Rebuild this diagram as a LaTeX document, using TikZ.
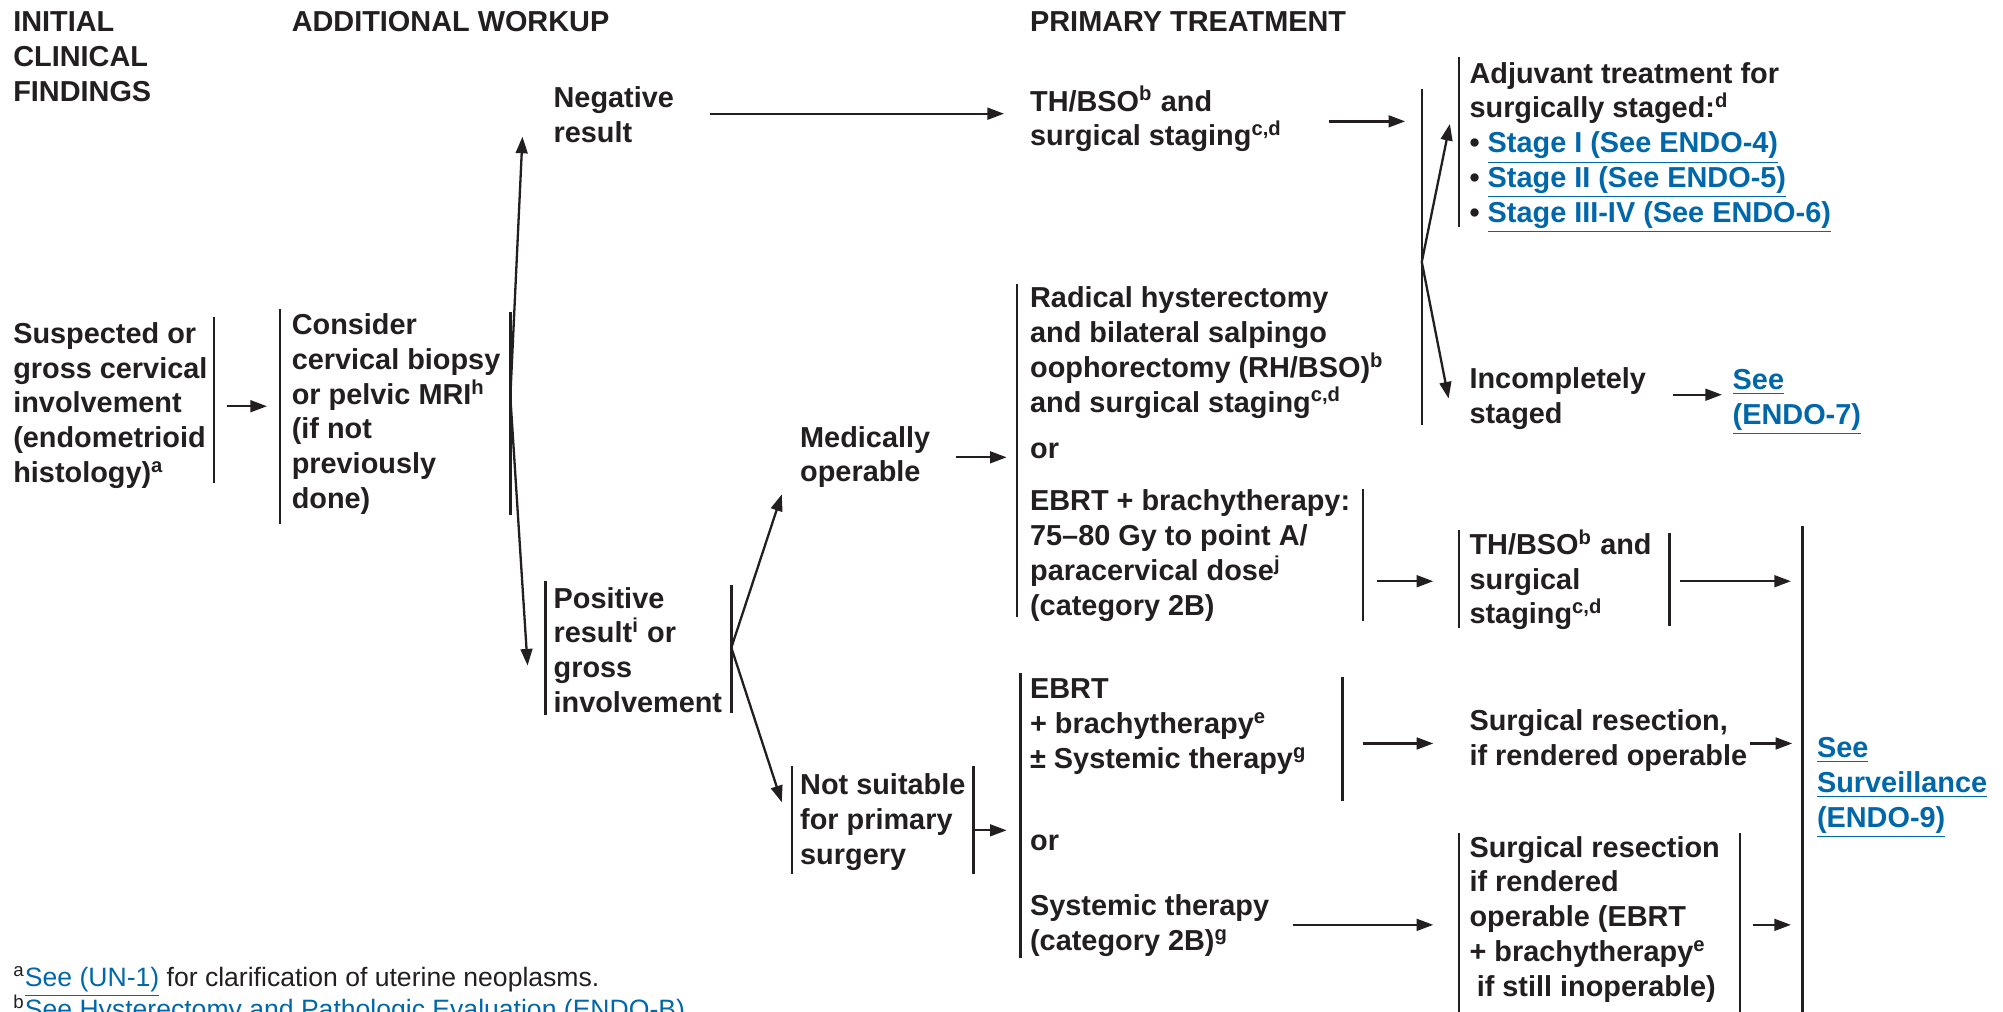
\documentclass[tikz,border=0pt]{standalone}
\usepackage{fontspec}
\setmainfont{Liberation Sans}
\usetikzlibrary{arrows.meta}
\definecolor{ink}{HTML}{231F20}
\definecolor{linkblue}{HTML}{0068AA}
\newcommand{\lnk}[1]{{\color{linkblue}\underline{#1}}}
\begin{document}
\begin{tikzpicture}[x=0.5pt,y=-0.5pt,
  txt/.style={font=\bfseries\fontsize{11.3}{13.6}\selectfont, align=left, anchor=base west, inner sep=0pt, text=ink},
  fn/.style={font=\fontsize{10.4}{12.5}\selectfont, align=left, anchor=base west, inner sep=0pt, text=ink},
  bar/.style={draw=ink, line width=0.95pt},
  arr/.style={draw=ink, line width=0.9pt, -{Triangle[length=6.5pt,width=4.6pt]}}]
\useasboundingbox[fill=white] (0,0) rectangle (1568,792);

% headers (anchor = baseline of the last line)
\node[txt] (h1) at (10,79.4) {INITIAL\\CLINICAL\\FINDINGS};
\node[txt] (h2) at (228,25) {ADDITIONAL WORKUP};
\node[txt] (h3) at (806,25) {PRIMARY TREATMENT};

% text nodes
\node[txt] (susp) at (10,377.6) {Suspected or\\gross cervical\\involvement\\(endometrioid\\histology)\textsuperscript{a}};
\node[txt] (cons) at (228,398) {Consider\\cervical biopsy\\or pelvic MRI\textsuperscript{h}\\(if not\\previously\\done)};
\node[txt] (neg) at (433,111.2) {Negative\\result};
\node[txt] (pos) at (433,557.6) {Positive\\result\textsuperscript{i} or\\gross\\involvement};
\node[txt] (thbso) at (806,114.2) {TH/BSO\textsuperscript{b} and\\surgical staging\textsuperscript{c,d}};
\node[txt] (adj) at (1150,173.8) {Adjuvant treatment for\\surgically staged:\textsuperscript{d}\\• \lnk{Stage I (See ENDO-4)}\\• \lnk{Stage II (See ENDO-5)}\\• \lnk{Stage III-IV (See ENDO-6)}};
\node[txt] (inc) at (1150,331.2) {Incompletely\\staged};
\node[txt] (endo7) at (1356,332.2) {\lnk{See}\\\lnk{(ENDO-7)}};
\node[txt] (med) at (626,377.2) {Medically\\operable};
\node[txt] (rad) at (806,322.6) {Radical hysterectomy\\and bilateral salpingo\\oophorectomy (RH/BSO)\textsuperscript{b}\\and surgical staging\textsuperscript{c,d}};
\node[txt] (or1) at (806,359) {or};
\node[txt] (ebrt1) at (806,481.6) {EBRT + brachytherapy:\\75–80 Gy to point A/\\paracervical dose\textsuperscript{j}\\(category 2B)};
\node[txt] (thbso2) at (1150,488.4) {TH/BSO\textsuperscript{b} and\\surgical\\staging\textsuperscript{c,d}};
\node[txt] (notsuit) at (626,676.4) {Not suitable\\for primary\\surgery};
\node[txt] (ebrt2) at (806,601.4) {EBRT\\+ brachytherapy\textsuperscript{e}\\± Systemic therapy\textsuperscript{g}};
\node[txt] (or2) at (806,666) {or};
\node[txt] (sys) at (806,744.2) {Systemic therapy\\(category 2B)\textsuperscript{g}};
\node[txt] (sr1) at (1150,599.2) {Surgical resection,\\if rendered operable};
\node[txt] (sr2) at (1150,779.8) {Surgical resection\\if rendered\\operable (EBRT\\+ brachytherapy\textsuperscript{e}\\\hspace{0.25em}if still inoperable)};
\node[txt] (surv) at (1422,647.4) {\lnk{See}\\\lnk{Surveillance}\\\lnk{(ENDO-9)}};

% footnotes
\node[fn] (fna) at (10,772) {\textsuperscript{a}\lnk{See (UN-1)} for clarification of uterine neoplasms.};
\node[fn] (fnb) at (10,797) {\textsuperscript{b}\lnk{See Hysterectomy and Pathologic Evaluation (ENDO-B)}};

% bars
\coordinate (b1t) at (167.5,248); \coordinate (b1b) at (167.5,378);
\coordinate (b2t) at (219,242);   \coordinate (b2b) at (219,410);
\coordinate (b3t) at (399.5,244); \coordinate (b3b) at (399.5,403);
\coordinate (b4t) at (427,455);   \coordinate (b4b) at (427,560);
\coordinate (b5t) at (572.5,458); \coordinate (b5b) at (572.5,558);
\coordinate (b6t) at (796,222);   \coordinate (b6b) at (796,483);
\coordinate (b7t) at (1067,383);  \coordinate (b7b) at (1067,486);
\coordinate (b8t) at (1113,70);   \coordinate (b8b) at (1113,333);
\coordinate (b9t) at (1142,45);   \coordinate (b9b) at (1142,178);
\coordinate (b10t) at (1142,415); \coordinate (b10b) at (1142,492);
\coordinate (b11t) at (1307,417); \coordinate (b11b) at (1307,490);
\coordinate (b12t) at (1411,412); \coordinate (b12b) at (1411,800);
\coordinate (b13t) at (620,600);  \coordinate (b13b) at (620,684);
\coordinate (b14t) at (762,600);  \coordinate (b14b) at (762,684);
\coordinate (b15t) at (799,527);  \coordinate (b15b) at (799,750);
\coordinate (b16t) at (1051,530); \coordinate (b16b) at (1051,627);
\coordinate (b17t) at (1142,652); \coordinate (b17b) at (1142,800);
\coordinate (b18t) at (1362,652); \coordinate (b18b) at (1362,800);
\foreach \i in {1,...,18} \draw[bar] (b\i t) -- (b\i b);

% split points
\coordinate (o1) at (399.5,310.5);
\coordinate (o2) at (1113,205);
\coordinate (o3) at (572.5,507);

% arrow ends
\coordinate (a1s) at (177.5,318);  \coordinate (a1e) at (209,318);
\coordinate (negtip) at (409,107);  \coordinate (postip) at (413,521);
\coordinate (a2s) at (556,89);     \coordinate (a2e) at (786,89);
\coordinate (a3s) at (1040,95);    \coordinate (a3e) at (1100,95);
\coordinate (adjtip) at (1135,97); \coordinate (inctip) at (1134,312);
\coordinate (a4s) at (1310,309);   \coordinate (a4e) at (1348,309);
\coordinate (medtip) at (612,387); \coordinate (nottip) at (612,628);
\coordinate (a5s) at (748,358);    \coordinate (a5e) at (788,358);
\coordinate (a6s) at (1078,455);   \coordinate (a6e) at (1122,455);
\coordinate (a7s) at (1315,455);   \coordinate (a7e) at (1402,455);
\coordinate (a8s) at (763,650);    \coordinate (a8e) at (788,650);
\coordinate (a9s) at (1067,582);   \coordinate (a9e) at (1122,582);
\coordinate (a10s) at (1370,582);  \coordinate (a10e) at (1403,582);
\coordinate (a11s) at (1012,724);  \coordinate (a11e) at (1122,724);
\coordinate (a12s) at (1372,724);  \coordinate (a12e) at (1402,724);

\draw[arr] (a1s) -- (a1e);
\draw[arr] (o1) -- (negtip);
\draw[arr] (o1) -- (postip);
\draw[arr] (a2s) -- (a2e);
\draw[arr] (a3s) -- (a3e);
\draw[arr] (o2) -- (adjtip);
\draw[arr] (o2) -- (inctip);
\draw[arr] (a4s) -- (a4e);
\draw[arr] (o3) -- (medtip);
\draw[arr] (o3) -- (nottip);
\draw[arr] (a5s) -- (a5e);
\draw[arr] (a6s) -- (a6e);
\draw[arr] (a7s) -- (a7e);
\draw[arr] (a8s) -- (a8e);
\draw[arr] (a9s) -- (a9e);
\draw[arr] (a10s) -- (a10e);
\draw[arr] (a11s) -- (a11e);
\draw[arr] (a12s) -- (a12e);
\end{tikzpicture}
\end{document}
